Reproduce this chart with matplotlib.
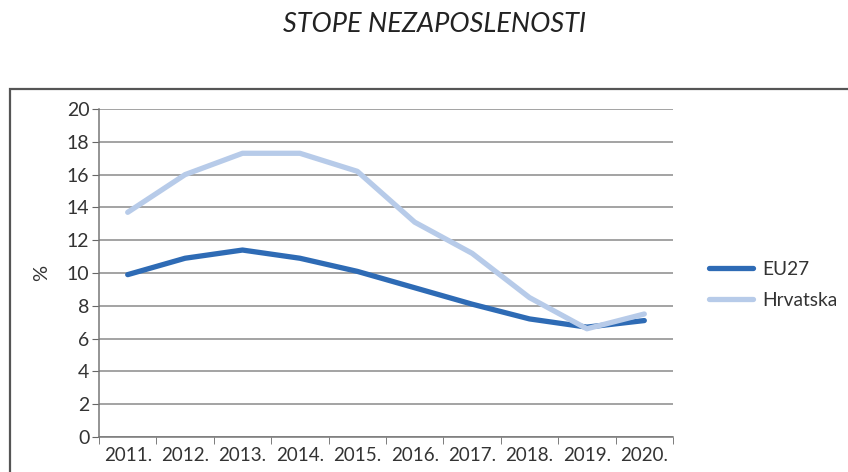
import matplotlib
matplotlib.use("Agg")
import matplotlib.pyplot as plt
from matplotlib.patches import Rectangle
import numpy as np

years = ["2011.", "2012.", "2013.", "2014.", "2015.", "2016.", "2017.", "2018.", "2019.", "2020."]
eu27 = [9.9, 10.9, 11.4, 10.9, 10.1, 9.1, 8.1, 7.2, 6.7, 7.1]
hrvatska = [13.7, 16.0, 17.3, 17.3, 16.2, 13.1, 11.2, 8.5, 6.6, 7.5]

plt.rcParams["font.family"] = ["Lato", "DejaVu Sans"]

fig = plt.figure(figsize=(8.48, 4.72), dpi=100)
ax = fig.add_axes([99 / 848, 1 - 437 / 472, (673 - 99) / 848, (437 - 109) / 472])

# outer frame of the chart box
fig.patches.append(Rectangle((10 / 848, -0.1), 1.0, 1 - 89 / 472 + 0.1,
                             transform=fig.transFigure, fill=False,
                             edgecolor="#555555", linewidth=1.6))

x = np.arange(len(years))
ax.plot(x, eu27, color="#2E6BB5", linewidth=3.8, label="EU27", solid_capstyle="round")
ax.plot(x, hrvatska, color="#B7CBE9", linewidth=3.8, label="Hrvatska", solid_capstyle="round")

ax.set_xlim(-0.5, len(years) - 0.5)
ax.set_ylim(0, 20)
ax.set_yticks(range(0, 21, 2))
ax.yaxis.grid(True, color="#8a8a8a", linewidth=1.1)
ax.set_axisbelow(True)

ax.set_xticks(x)
ax.set_xticklabels(years, fontsize=13.5, color="#333333")
ax.set_xticks(np.arange(-0.5, len(years)), minor=True)
ax.tick_params(axis="x", which="major", length=0, pad=7)
ax.tick_params(axis="x", which="minor", length=5, color="#666666", direction="out")
ax.tick_params(axis="y", length=5, color="#666666", labelsize=14, labelcolor="#333333", pad=2)

for s in ["top", "right"]:
    ax.spines[s].set_visible(False)
for s in ["left", "bottom"]:
    ax.spines[s].set_color("#777777")
    ax.spines[s].set_linewidth(1.1)

fig.text(42 / 848, 1 - 273 / 472, "%", rotation=90, fontsize=14.5, color="#333333",
         ha="center", va="center")

fig.text(435 / 848, 1 - 24 / 472, "STOPE NEZAPOSLENOSTI", fontsize=19.5, style="italic",
         color="#222222", ha="center", va="center")

fig.legend(loc="center left", bbox_to_anchor=(692 / 848, 1 - 285 / 472), frameon=False,
           fontsize=13.8, handlelength=2.3, labelspacing=0.75, handletextpad=0.45,
           labelcolor="#333333")

fig.savefig("out.png", dpi=100)
